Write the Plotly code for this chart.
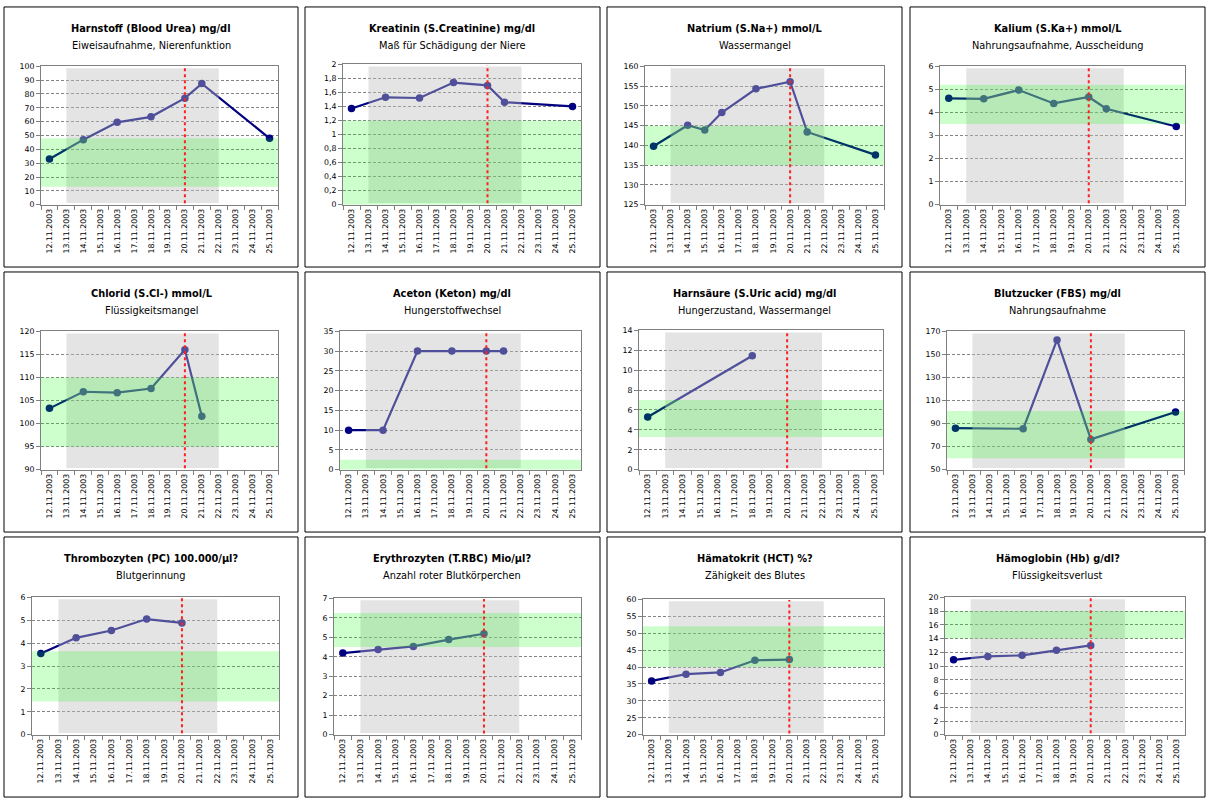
import plotly.graph_objects as go

# ---------------- data ----------------
dates = ["12.11.2003", "13.11.2003", "14.11.2003", "15.11.2003", "16.11.2003",
         "17.11.2003", "18.11.2003", "19.11.2003", "20.11.2003", "21.11.2003",
         "22.11.2003", "23.11.2003", "24.11.2003", "25.11.2003"]

harnstoff   = [33, None, 47, None, 59.5, None, 63.5, None, 77, 87.5, None, None, None, 48]
kreatinin   = [1.37, None, 1.53, None, 1.52, None, 1.74, None, 1.70, 1.46, None, None, None, 1.40]
natrium     = [139.8, None, 145.1, 143.9, 148.3, None, 154.3, None, 156.1, 143.4, None, None, None, 137.6]
kalium      = [4.61, None, 4.59, None, 4.97, None, 4.39, None, 4.67, 4.16, None, None, None, 3.39]
chlorid     = [103.3, None, 106.9, None, 106.7, None, 107.6, None, 116.0, 101.6, None, None, None, None]
aceton      = [10, None, 10, None, 30, None, 30, None, 30, 30, None, None, None, None]
harnsaeure  = [5.3, None, None, None, None, None, 11.45, None, None, None, None, None, None, None]
blutzucker  = [86, None, None, None, 85.5, None, 162.5, None, 76.3, None, None, None, None, 100]
thrombozyten = [3.55, None, 4.23, None, 4.55, None, 5.05, None, 4.88, None, None, None, None, None]
erythrozyten = [4.19, None, 4.37, None, 4.53, None, 4.88, None, 5.18, None, None, None, None, None]
haematokrit = [35.9, None, 37.9, None, 38.4, None, 42.0, None, 42.2, None, None, None, None, None]
haemoglobin = [10.9, None, 11.4, None, 11.55, None, 12.3, None, 13.0, None, None, None, None, None]

titles = ["Harnstoff (Blood Urea) mg/dl", "Kreatinin (S.Creatinine) mg/dl",
          "Natrium (S.Na+) mmol/L", "Kalium (S.Ka+) mmol/L",
          "Chlorid (S.Cl-) mmol/L", "Aceton (Keton) mg/dl",
          "Harnsäure (S.Uric acid) mg/dl", "Blutzucker (FBS) mg/dl",
          "Thrombozyten (PC) 100.000/µl?", "Erythrozyten (T.RBC) Mio/µl?",
          "Hämatokrit (HCT) %?", "Hämoglobin (Hb) g/dl?"]
subtitles = ["Eiweisaufnahme, Nierenfunktion", "Maß für Schädigung der Niere",
             "Wassermangel", "Nahrungsaufnahme, Ausscheidung",
             "Flüssigkeitsmangel", "Hungerstoffwechsel",
             "Hungerzustand, Wassermangel", "Nahrungsaufnahme",
             "Blutgerinnung", "Anzahl roter Blutkörperchen",
             "Zähigkeit des Blutes", "Flüssigkeitsverlust"]
series = [harnstoff, kreatinin, natrium, kalium, chlorid, aceton,
          harnsaeure, blutzucker, thrombozyten, erythrozyten, haematokrit, haemoglobin]

norm_low  = [13, 0, 135, 3.5, 95, 0, 3.3, 60, 1.45, 4.5, 40, 14]
norm_high = [48, 1.2, 145, 5.2, 110, 2.5, 7.0, 101, 3.65, 6.25, 52, 18]

y_min  = [0, 0, 125, 0, 90, 0, 0, 50, 0, 0, 20, 0]
y_max  = [100, 2, 160, 6, 120, 35, 14, 170, 6, 7, 60, 20]
y_step = [10, 0.2, 5, 1, 5, 5, 2, 20, 1, 1, 5, 2]

period_start = "13.11.2003"
period_end = "22.11.2003"
marker_day = "20.11.2003"

# ---------------- layout geometry (pixels) ----------------
W, H = 1211, 806
box_left = [4, 305, 607, 910]
box_right = [298, 600, 902, 1205]
box_top = [3, 271, 539]
box_bottom = [266, 534, 802]

plot_px = [
    (41, 278, 63, 203), (343, 581, 61, 203), (645, 884, 63, 203), (940, 1185, 63, 203),
    (41, 278, 331, 471), (340, 581, 331, 471), (639, 883, 330, 471), (947, 1184, 331, 471),
    (32, 279, 600, 739), (334, 581, 601, 739), (643, 884, 602, 739), (945, 1185, 600, 739),
]

FONT = "DejaVu Sans"
fig = go.Figure()
shapes = []
annotations = []
layout_axes = {}

for i in range(12):
    r, c = divmod(i, 4)
    n = "" if i == 0 else str(i + 1)
    xa, ya = "x" + n, "y" + n
    x0p, x1p, y0p, y1p = plot_px[i]

    # panel frame
    shapes.append(dict(type="rect", xref="paper", yref="paper",
                       x0=box_left[c] / W, x1=box_right[c] / W,
                       y0=1 - box_bottom[r] / H, y1=1 - box_top[r] / H,
                       line=dict(color="black", width=1), fillcolor="rgba(0,0,0,0)",
                       layer="below"))

    fig.add_trace(go.Scatter(
        x=dates, y=series[i], xaxis=xa, yaxis=ya, mode="lines+markers",
        connectgaps=True, hoverinfo="skip", showlegend=False,
        line=dict(color="#000080", width=2.2),
        marker=dict(color="#000080", size=7.5, symbol="circle"),
    ))

    # grey observation period
    shapes.append(dict(type="rect", xref=xa, yref=ya + " domain",
                       x0=period_start, x1=period_end, y0=0.012, y1=0.985,
                       fillcolor="rgba(190,190,190,0.42)", line=dict(width=0),
                       layer="above"))
    # green normal range
    shapes.append(dict(type="rect", xref=xa + " domain", yref=ya,
                       x0=0, x1=1, y0=norm_low[i], y1=norm_high[i],
                       fillcolor="rgba(0,255,0,0.2)", line=dict(width=0),
                       layer="above"))
    # red marker line
    shapes.append(dict(type="line", xref=xa, yref=ya + " domain",
                       x0=marker_day, x1=marker_day, y0=0.01, y1=0.995,
                       line=dict(color="#ff2020", width=2, dash="dot"),
                       layer="above"))

    cx = (box_left[c] + box_right[c]) / 2 / W
    annotations.append(dict(xref="paper", yref="paper", x=cx, y=1 - (box_top[r] + 22) / H,
                            text="<b>" + titles[i] + "</b>", showarrow=False,
                            xanchor="center", yanchor="middle",
                            font=dict(family=FONT, size=9.8, color="black")))
    annotations.append(dict(xref="paper", yref="paper", x=cx, y=1 - (box_top[r] + 39) / H,
                            text=subtitles[i], showarrow=False,
                            xanchor="center", yanchor="middle",
                            font=dict(family=FONT, size=9.8, color="black")))

    axis_line = dict(showline=True, linecolor="#808080", linewidth=1, mirror=True)
    layout_axes["xaxis" + n] = dict(
        domain=[x0p / W, x1p / W], anchor=ya, type="category",
        categoryorder="array", categoryarray=dates, range=[-0.5, 13.5],
        tickmode="array", tickvals=dates, ticktext=dates,
        tickangle=-90, tickson="boundaries", ticks="outside", ticklen=4,
        tickcolor="#808080", showgrid=False, zeroline=False,
        tickfont=dict(family=FONT, size=7.8, color="black"), fixedrange=True,
        **axis_line)
    layout_axes["yaxis" + n] = dict(
        domain=[1 - y1p / H, 1 - y0p / H], anchor=xa,
        range=[y_min[i], y_max[i]], tick0=y_min[i], dtick=y_step[i],
        ticks="outside", ticklen=4, tickcolor="#808080",
        showgrid=True, gridcolor="#858585", griddash="3px,2px", gridwidth=1,
        zeroline=False, tickfont=dict(family=FONT, size=7.8, color="black"),
        fixedrange=True, **axis_line)

fig.update_layout(
    width=W, height=H, margin=dict(l=0, r=0, t=0, b=0),
    paper_bgcolor="white", plot_bgcolor="white",
    separators=",.", shapes=shapes, annotations=annotations,
    showlegend=False, **layout_axes)

fig.write_html("out.html", config={"displayModeBar": False},
               post_script="document.body.style.margin='0';")
